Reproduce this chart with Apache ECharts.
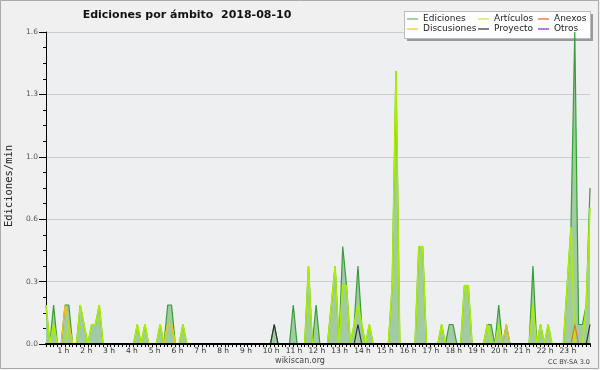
<!DOCTYPE html>
<html><head><meta charset="utf-8">
<script src="https://cdn.jsdelivr.net/npm/echarts@6/dist/echarts.min.js"></script>
<style>html,body{margin:0;padding:0;background:#f0f0f0}#c{width:600px;height:370px}</style>
</head><body><div id="c"></div>
<script>
// 10-minute slots, one row per hour
const ediciones = [
  0.2,0,0.2,0,0,0.2,   0.2,0,0,0.2,0.1,0,   0.1,0.1,0.2,0,0,0,   0,0,0,0,0,0,
  0.1,0,0.1,0,0,0,     0.1,0,0.2,0.2,0,0,   0.1,0,0,0,0,0,       0,0,0,0,0,0,
  0,0,0,0,0,0,         0,0,0,0,0,0,         0.1,0,0,0,0,0.2,     0,0,0,0.4,0,0.2,
  0,0,0,0.2,0.4,0,     0.5,0.3,0,0.1,0.4,0.1, 0,0.1,0,0,0,0,     0,0.3,1.4,0,0,0,
  0,0,0.5,0.5,0,0,     0,0,0.1,0,0.1,0.1,   0,0,0.3,0.3,0,0,     0,0,0.1,0.1,0,0.2,
  0,0.1,0,0,0,0,       0,0,0.4,0,0.1,0,     0.1,0,0,0,0,0.3,     0.6,1.6,0.1,0.1,0.2,0.8
];
const articulos = [
  0.2,0,0.1,0,0,0,     0.1,0,0,0.2,0.1,0,   0.1,0.1,0.2,0,0,0,   0,0,0,0,0,0,
  0.1,0,0.1,0,0,0,     0.1,0,0.1,0.1,0,0,   0.1,0,0,0,0,0,       0,0,0,0,0,0,
  0,0,0,0,0,0,         0,0,0,0,0,0,         0,0,0,0,0,0,         0,0,0,0.4,0,0,
  0,0,0,0.2,0.4,0,     0.3,0.3,0,0.1,0.2,0.1, 0,0.1,0,0,0,0,     0,0.3,1.4,0,0,0,
  0,0,0.5,0.5,0,0,     0,0,0.1,0,0,0,       0,0,0.3,0.3,0,0,     0,0,0.1,0,0,0.1,
  0,0,0,0,0,0,         0,0,0.2,0,0.1,0,     0.1,0,0,0,0,0.3,     0.6,0,0,0,0.2,0.7
];
const discusiones = [
  0,0,0,0,0,0.2,       0.1,0,0,0,0,0,       0,0,0,0,0,0,         0,0,0,0,0,0,
  0,0,0,0,0,0,         0,0,0.1,0.1,0,0,     0,0,0,0,0,0,         0,0,0,0,0,0,
  0,0,0,0,0,0,         0,0,0,0,0,0,         0,0,0,0,0,0,         0,0,0,0,0,0,
  0,0,0,0,0,0,         0,0,0,0,0,0,         0,0,0,0,0,0,         0,0,0,0,0,0,
  0,0,0,0,0,0,         0,0,0,0,0,0,         0,0,0,0,0,0,         0,0,0,0,0,0,
  0,0.1,0,0,0,0,       0,0,0,0,0,0,         0,0,0,0,0,0,         0,0,0,0,0,0
];
const anexos = [
  0,0,0,0,0,0, 0,0,0,0,0,0, 0,0,0,0,0,0, 0,0,0,0,0,0,
  0,0,0,0,0,0, 0,0,0,0,0,0, 0,0,0,0,0,0, 0,0,0,0,0,0,
  0,0,0,0,0,0, 0,0,0,0,0,0, 0,0,0,0,0,0, 0,0,0,0,0,0,
  0,0,0,0,0,0, 0,0,0,0,0,0, 0,0,0,0,0,0, 0,0,0,0,0,0,
  0,0,0,0,0,0, 0,0,0,0,0,0, 0,0,0,0,0,0, 0,0,0,0,0,0,
  0,0,0,0,0,0, 0,0,0,0,0,0, 0,0,0,0,0,0, 0,0.1,0,0,0,0
];
const proyecto = [
  0,0,0,0,0,0, 0,0,0,0,0,0, 0,0,0,0,0,0, 0,0,0,0,0,0,
  0,0,0,0,0,0, 0,0,0,0,0,0, 0,0,0,0,0,0, 0,0,0,0,0,0,
  0,0,0,0,0,0, 0,0,0,0,0,0, 0.1,0,0,0,0,0, 0,0,0,0,0,0,
  0,0,0,0,0,0, 0,0,0,0,0.1,0, 0,0,0,0,0,0, 0,0,0,0,0,0,
  0,0,0,0,0,0, 0,0,0,0,0,0, 0,0,0,0,0,0, 0,0,0,0,0,0,
  0,0,0,0,0,0, 0,0,0,0,0,0, 0,0,0,0,0,0, 0,0,0,0,0,0.1
];
const otros = [
  0,0,0,0,0,0, 0,0,0,0,0,0, 0,0,0,0,0,0, 0,0,0,0,0,0,
  0,0,0,0,0,0, 0,0,0,0,0,0, 0,0,0,0,0,0, 0,0,0,0,0,0,
  0,0,0,0,0,0, 0,0,0,0,0,0, 0,0,0,0,0,0, 0,0,0,0,0,0,
  0,0,0,0,0,0, 0,0,0,0,0,0, 0,0,0,0,0,0, 0,0,0,0,0,0,
  0,0,0,0,0,0, 0,0,0,0,0,0, 0,0,0,0,0,0, 0,0,0,0,0,0,
  0,0,0,0,0,0, 0,0,0,0,0,0, 0,0,0,0,0,0, 0,0,0,0,0,0
];
const hourLabels = ['1 h','2 h','3 h','4 h','5 h','6 h','7 h','8 h','9 h','10 h','11 h','12 h',
  '13 h','14 h','15 h','16 h','17 h','18 h','19 h','20 h','21 h','22 h','23 h'];
const yTicks = [0, 0.32, 0.64, 0.96, 1.28, 1.6];

const slots = ediciones.map((_, i) => String(Math.floor(i / 6)).padStart(2, '0') + ':' + (i % 6) + '0');
const FONT = 'DejaVu Sans';

const chart = echarts.init(document.getElementById('c'), null, {renderer: 'canvas'});
function lineSeries(name, data, color, width, z, extra) {
  return Object.assign({
    name, type: 'line', data, symbol: 'none', z,
    color, lineStyle: {color, width}, emphasis: {disabled: true}, animation: false
  }, extra || {});
}
const legendBase = {
  orient: 'vertical', top: 14, itemGap: 0, itemWidth: 11, itemHeight: 1.5, icon: 'rect',
  padding: 0, selectedMode: false,
  textStyle: {fontFamily: FONT, fontSize: 9, color: '#222', lineHeight: 10}
};
chart.setOption({
  backgroundColor: '#f0f0f0',
  animation: false,
  grid: {left: 46, right: 10, top: 32, bottom: 26, show: true, backgroundColor: '#eeeff1', borderWidth: 0},
  xAxis: {
    type: 'category', data: slots, boundaryGap: false, z: 10,
    axisLine: {lineStyle: {color: '#000', width: 2}},
    axisTick: {interval: 0, length: 3, lineStyle: {color: '#000'}},
    axisLabel: {
      interval: (i) => i % 6 === 3 && i <= 135,
      formatter: (v, i) => hourLabels[(i + 3) / 6 - 1],
      align: 'left', margin: 3, fontFamily: FONT, fontSize: 7.5, color: '#333'
    },
    splitLine: {show: false}
  },
  yAxis: {
    type: 'value', min: yTicks[0], max: yTicks[yTicks.length - 1], interval: yTicks[1],
    axisLine: {show: true, lineStyle: {color: '#000'}},
    axisTick: {show: true, length: 7, lineStyle: {color: '#000'}},
    minorTick: {show: true, splitNumber: 4, length: 3, lineStyle: {color: '#000'}},
    axisLabel: {formatter: (v) => v.toFixed(1), margin: 8, fontFamily: FONT, fontSize: 7.5, color: '#555'},
    splitLine: {lineStyle: {color: '#cccccc'}}
  },
  legend: [
    Object.assign({left: 407, data: [{name: 'Ediciones', itemStyle: {color: '#80c880'}}, {name: 'Discusiones', itemStyle: {color: '#f0d050'}}]}, legendBase),
    Object.assign({left: 478, data: [{name: 'Artículos', itemStyle: {color: '#ccee66'}}, {name: 'Proyecto', itemStyle: {color: '#555555'}}]}, legendBase),
    Object.assign({left: 538, data: [{name: 'Anexos', itemStyle: {color: '#ee8050'}}, {name: 'Otros', itemStyle: {color: '#9050ee'}}]}, legendBase)
  ],
  graphic: [
    {type: 'rect', z: 1, silent: true, shape: {x: 0.5, y: 0.5, width: 598, height: 368}, style: {fill: 'none', stroke: '#aaaaaa'}},
    {type: 'rect', z: 1, silent: true, shape: {x: 407, y: 14, width: 186, height: 27}, style: {fill: '#999999'}},
    {type: 'rect', z: 1, silent: true, shape: {x: 404.5, y: 11.5, width: 186, height: 27}, style: {fill: '#ffffff', stroke: '#bbbbbb'}},
    {type: 'text', z: 5, silent: true, x: 187, y: 15, style: {text: 'Ediciones por ámbito  2018-08-10', font: 'bold 11px "DejaVu Sans"', fill: '#111', align: 'center', verticalAlign: 'middle'}},
    {type: 'text', z: 5, silent: true, x: 9.5, y: 186, rotation: Math.PI / 2, style: {text: 'Ediciones/min', font: '10.5px "DejaVu Sans Mono"', fill: '#222', align: 'center', verticalAlign: 'middle'}},
    {type: 'text', z: 5, silent: true, x: 300, y: 361, style: {text: 'wikiscan.org', font: '8px "DejaVu Sans"', fill: '#444', align: 'center', verticalAlign: 'middle'}},
    {type: 'text', z: 5, silent: true, x: 590, y: 362, style: {text: 'CC BY-SA 3.0', font: '6.5px "DejaVu Sans"', fill: '#444', align: 'right', verticalAlign: 'middle'}}
  ],
  series: [
    lineSeries('Ediciones', ediciones, '#33a033', 1.2, 2, {areaStyle: {color: '#a3cba3', opacity: 1}}),
    lineSeries('Artículos', articulos, '#aaee00', 1.6, 3),
    lineSeries('Discusiones', discusiones, '#f0c020', 1.3, 4),
    lineSeries('Anexos', anexos, '#f07020', 1.2, 5),
    lineSeries('Proyecto', proyecto, '#333333', 1.2, 6),
    lineSeries('Otros', otros, '#9040e0', 1.2, 7)
  ]
});
</script></body></html>
